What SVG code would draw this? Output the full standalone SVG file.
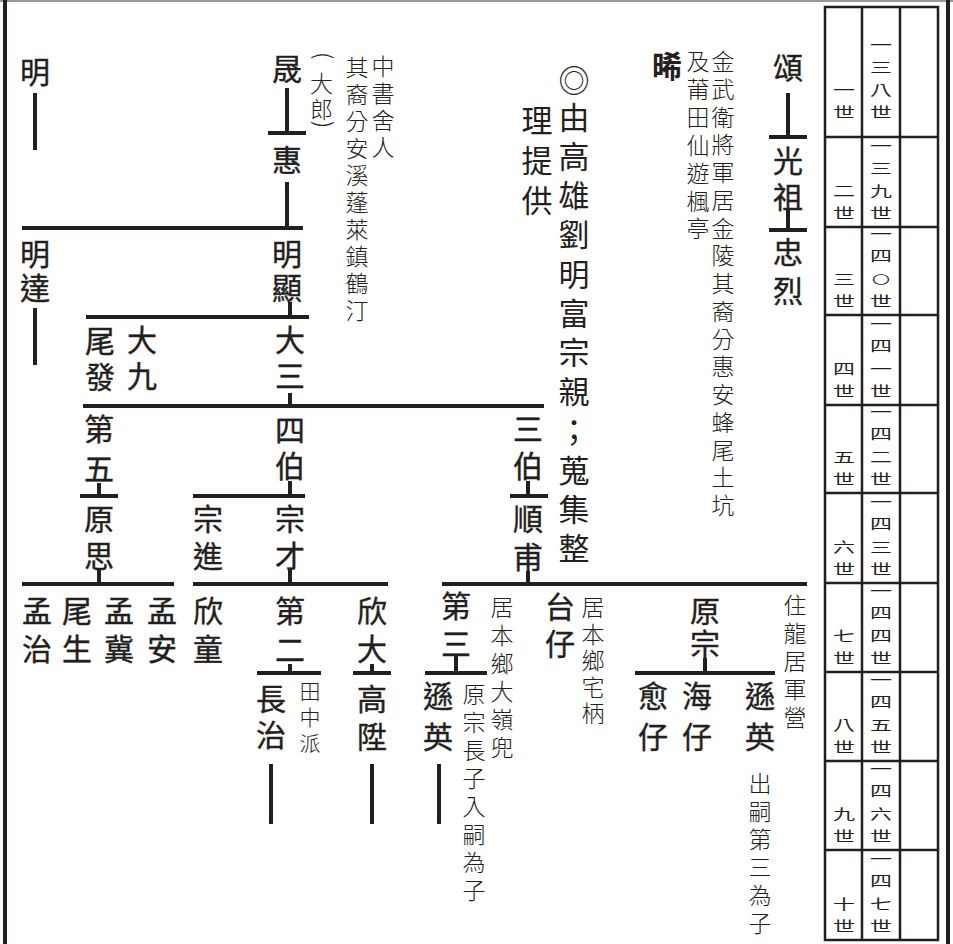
<svg xmlns="http://www.w3.org/2000/svg" width="953" height="944" viewBox="0 0 953 944">
<style>
text { font-family: "Noto Sans CJK TC", "Noto Sans CJK SC", sans-serif; fill: #231f20; text-anchor: middle; }
.n { font-size: 30px; font-weight: 400; stroke: #231f20; stroke-width: 0.4px; }
.bd { font-weight: 700; stroke-width: 0; }
.b { font-size: 31px; font-weight: 400; }
.a { font-size: 23px; font-weight: 300; }
.s { font-size: 21px; font-weight: 300; }
.t { font-size: 22px; font-weight: 400; }
.c line { stroke: #231f20; stroke-width: 4; }
.frame line { stroke: #231f20; stroke-width: 4; }
.tbl line, .tbl rect { stroke: #231f20; stroke-width: 2.5; fill: none; }
</style>
<rect x="0" y="0" width="953" height="944" fill="#ffffff"/>
<g id="frame" class="frame">
<line x1="0" y1="1" x2="953" y2="1" style="stroke:#999;stroke-width:2"/>
<line x1="5" y1="0" x2="5" y2="944"/>
<line x1="948" y1="0" x2="948" y2="944"/>
</g>
<g id="table" class="tbl">
<rect x="825" y="7" width="113" height="933"/>
<line x1="862" y1="7" x2="862" y2="940"/>
<line x1="900" y1="7" x2="900" y2="940"/>
<line x1="825" y1="137" x2="938" y2="137"/>
<line x1="825" y1="227" x2="938" y2="227"/>
<line x1="825" y1="315" x2="938" y2="315"/>
<line x1="825" y1="405" x2="938" y2="405"/>
<line x1="825" y1="493" x2="938" y2="493"/>
<line x1="825" y1="583" x2="938" y2="583"/>
<line x1="825" y1="672" x2="938" y2="672"/>
<line x1="825" y1="761" x2="938" y2="761"/>
<line x1="825" y1="850" x2="938" y2="850"/>
</g>
<g id="table-labels" transform="scale(1,0.62)">
<text class="t" x="881 881 881 881" y="80.2 116.5 152.7 189">一三八世</text>
<text class="t" x="844 844" y="152.7 189">一世</text>
<text class="t" x="881 881 881 881" y="243.1 279.4 315.6 351.9">一三九世</text>
<text class="t" x="844 844" y="315.6 351.9">二世</text>
<text class="t" x="881 881 881 881" y="385 421.3 457.6 493.9">一四<tspan font-size="18">〇</tspan>世</text>
<text class="t" x="844 844" y="457.6 493.9">三世</text>
<text class="t" x="881 881 881 881" y="530.2 566.5 602.7 639">一四一世</text>
<text class="t" x="844 844" y="602.7 639">四世</text>
<text class="t" x="881 881 881 881" y="672.1 708.4 744.7 781">一四二世</text>
<text class="t" x="844 844" y="744.7 781">五世</text>
<text class="t" x="881 881 881 881" y="817.3 853.5 889.8 926.1">一四三世</text>
<text class="t" x="844 844" y="889.8 926.1">六世</text>
<text class="t" x="881 881 881 881" y="960.8 997.1 1033.4 1069.7">一四四世</text>
<text class="t" x="844 844" y="1033.4 1069.7">七世</text>
<text class="t" x="881 881 881 881" y="1104.4 1140.6 1176.9 1213.2">一四五世</text>
<text class="t" x="844 844" y="1176.9 1213.2">八世</text>
<text class="t" x="881 881 881 881" y="1247.9 1284.2 1320.5 1356.8">一四六世</text>
<text class="t" x="844 844" y="1320.5 1356.8">九世</text>
<text class="t" x="881 881 881 881" y="1393.1 1429.4 1465.6 1501.9">一四七世</text>
<text class="t" x="844 844" y="1465.6 1501.9">十世</text>
</g>
<g id="connectors" class="c">
<line x1="35" y1="93" x2="35" y2="150"/>
<line x1="287" y1="88" x2="287" y2="133"/>
<line x1="268" y1="133" x2="306" y2="133"/>
<line x1="287" y1="182" x2="287" y2="228"/>
<line x1="22" y1="228" x2="303" y2="228"/>
<line x1="35" y1="308" x2="35" y2="365"/>
<line x1="290" y1="302" x2="290" y2="317"/>
<line x1="86" y1="317" x2="309" y2="317"/>
<line x1="788" y1="93" x2="788" y2="137"/>
<line x1="769" y1="137" x2="807" y2="137"/>
<line x1="788" y1="210" x2="788" y2="230"/>
<line x1="769" y1="230" x2="807" y2="230"/>
<line x1="290" y1="393" x2="290" y2="406"/>
<line x1="83" y1="406" x2="544" y2="406"/>
<line x1="99" y1="483" x2="99" y2="496"/>
<line x1="80" y1="496" x2="118" y2="496"/>
<line x1="290" y1="481" x2="290" y2="496"/>
<line x1="193" y1="496" x2="305" y2="496"/>
<line x1="528" y1="481" x2="528" y2="496"/>
<line x1="510" y1="496" x2="548" y2="496"/>
<line x1="99" y1="569" x2="99" y2="584"/>
<line x1="22" y1="584" x2="174" y2="584"/>
<line x1="290" y1="569" x2="290" y2="584"/>
<line x1="193" y1="584" x2="388" y2="584"/>
<line x1="528" y1="571" x2="528" y2="584"/>
<line x1="442" y1="584" x2="807" y2="584"/>
<line x1="290" y1="664" x2="290" y2="673"/>
<line x1="257" y1="673" x2="321" y2="673"/>
<line x1="372" y1="664" x2="372" y2="673"/>
<line x1="353" y1="673" x2="391" y2="673"/>
<line x1="456" y1="656" x2="456" y2="673"/>
<line x1="425" y1="673" x2="487" y2="673"/>
<line x1="705" y1="658" x2="705" y2="673"/>
<line x1="635" y1="673" x2="775" y2="673"/>
<line x1="271" y1="764" x2="271" y2="824"/>
<line x1="372" y1="764" x2="372" y2="824"/>
<line x1="439" y1="764" x2="439" y2="824"/>
</g>
<g id="n-ming"><text class="n" x="35" y="82.5">明</text></g>
<g id="n-mingda"><text class="n" x="35 35" y="265 299">明達</text></g>
<g id="n-sheng"><text class="n" x="287" y="80">晟</text></g>
<g id="n-sheng-note"><text class="a" font-size="24" style="text-anchor:start" x="315.4 310 310 315.4" y="52 92 118 121" rotate="90 0 0 90">(大郎)</text></g>
<g id="n-sheng-note2"><text class="a" x="383 383 383 383" y="75 102 129 156">中書舍人</text>
<text class="a" x="357 357 357 357 357 357 357 357 357 357" y="75.5 102.5 129.5 156.5 183.5 210.5 237.5 264.5 291.5 318.5">其裔分安溪蓬萊鎮鶴汀</text></g>
<g id="n-hui"><text class="n" x="287" y="170.5">惠</text></g>
<g id="n-mingxian"><text class="n" x="287 287" y="265 299">明顯</text></g>
<g id="n-dasan"><text class="n" x="290 290" y="351 387">大三</text></g>
<g id="n-weifa"><text class="n" x="100 100" y="352 388">尾發</text></g>
<g id="n-dajiu"><text class="n" x="142 142" y="351 387">大九</text></g>
<g id="n-song"><text class="n" x="788" y="79">頌</text></g>
<g id="n-guangzu"><text class="n" x="788 788" y="171.5 208">光祖</text></g>
<g id="n-zhonglie"><text class="n" x="788 788" y="262.5 301.5">忠烈</text></g>
<g id="n-xi"><text class="n bd" x="667" y="76.5">晞</text>
<text class="a" x="723 723 723 723 723 723 723 723 723 723 723 723 723 723 723 723 723" y="70 97.75 125.5 153.25 181 208.75 236.5 264.25 292 319.75 347.5 375.25 403 430.75 458.5 486.25 514">金武衛將軍居金陵其裔分惠安蜂尾土坑</text>
<text class="a" x="698 698 698 698 698 698 698" y="70 97.9 125.8 153.7 181.6 209.5 237.4">及莆田仙遊楓亭</text></g>
<g id="note-source"><text class="b" x="574 574 574 574 574 574 574 574 574 574 574 574 574" y="92 128.8 168 207.2 246.4 285.6 324.8 364 403.2 442.4 481.6 520.8 560">◎由高雄劉明富宗親；蒐集整</text>
<text class="b" x="537 537 537" y="132 172 211.5">理提供</text></g>
<g id="n-diwu"><text class="n" x="99 99" y="439.5 480">第五</text></g>
<g id="n-yuansi"><text class="n" x="99 99" y="530 566.5">原思</text></g>
<g id="n-sibo"><text class="n" x="290 290" y="440.5 476.5">四伯</text></g>
<g id="n-zongjin"><text class="n" x="208 208" y="530 566.5">宗進</text></g>
<g id="n-zongcai"><text class="n" x="290 290" y="530 566.5">宗才</text></g>
<g id="n-sanbo"><text class="n" x="528 528" y="440 476.5">三伯</text></g>
<g id="n-shunfu"><text class="n" x="528 528" y="530 568">順甫</text></g>
<g id="n-mengzhi"><text class="n" x="37 37" y="621.5 660">孟治</text></g>
<g id="n-weisheng"><text class="n" x="77 77" y="621.5 660">尾生</text></g>
<g id="n-mengji"><text class="n" x="119 119" y="621.5 660">孟冀</text></g>
<g id="n-mengan"><text class="n" x="162 162" y="621.5 660">孟安</text></g>
<g id="n-xintong"><text class="n" x="208 208" y="621.5 660">欣童</text></g>
<g id="n-dier"><text class="n" x="290 290" y="621.5 661">第二</text></g>
<g id="n-xinda"><text class="n" x="372 372" y="621.5 660">欣大</text></g>
<g id="n-disan"><text class="n" x="456 456" y="616.5 654.5">第三</text>
<text class="a" x="502 502 502 502 502 502" y="616 644 672 700 728 756">居本鄉大嶺兜</text></g>
<g id="n-taizai"><text class="n" x="560 560" y="617.5 655">台仔</text>
<text class="a" x="593 593 593 593 593" y="616 642.5 669 695.5 722">居本鄉宅柄</text></g>
<g id="n-yuanzong"><text class="n" x="705 705" y="621.5 655">原宗</text></g>
<g id="note-long"><text class="a" x="795 795 795 795 795" y="614 642 670 698 726">住龍居軍營</text></g>
<g id="n-changzhi"><text class="n" x="271 271" y="709.5 746">長治</text>
<text class="s" x="310 310 310" y="699 725 751">田中派</text></g>
<g id="n-gaosheng"><text class="n" x="372 372" y="709.5 747.5">高陞</text></g>
<g id="n-xunying1"><text class="n" x="438 438" y="707 747.5">遜英</text>
<text class="a" x="474 474 474 474 474 474 474 474" y="703 731 759 787 815 843 871 899">原宗長子入嗣為子</text></g>
<g id="n-yuzai"><text class="n" x="653 653" y="707 747.5">愈仔</text></g>
<g id="n-haizai"><text class="n" x="697 697" y="707 747.5">海仔</text></g>
<g id="n-xunying2"><text class="n" x="760 760" y="707 747.5">遜英</text>
<text class="a" x="760 760 760 760 760 760" y="792 820 848 876 904 932">出嗣第三為子</text></g>
</svg>
